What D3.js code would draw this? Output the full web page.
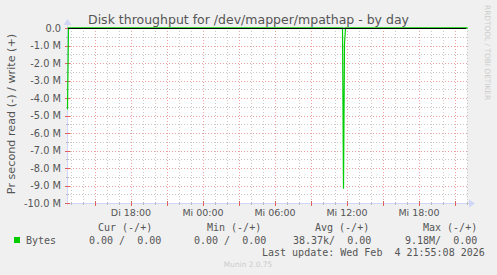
<!DOCTYPE html>
<html>
<head>
<meta charset="utf-8">
<script src="https://cdn.jsdelivr.net/npm/d3@7"></script>
<style>
html,body{margin:0;padding:0;background:#F0F0F0;}
svg{display:block;}
text{font-family:"DejaVu Sans",sans-serif;}
.mono{font-family:"DejaVu Sans Mono",monospace;white-space:pre;}
</style>
</head>
<body>
<script>
// ---- data (time in hours from Tue 00:00) ----
const readTimes  = [12.667, 12.75, 35.583, 35.667, 35.75, 35.833, 46.0];
const readValues = [4.65e6, 0, 0, 9.18e6, 0.9e6, 0, 0];
const writeTimes  = [12.667, 46.0];
const writeValues = [0, 0];
const xTickHours  = [18, 24, 30, 36, 42];
const xTickLabels = ["Di 18:00", "Mi 00:00", "Mi 06:00", "Mi 12:00", "Mi 18:00"];
const yTickValues = [0, -1e6, -2e6, -3e6, -4e6, -5e6, -6e6, -7e6, -8e6, -9e6, -10e6];
const yTickLabels = ["0.0", "-1.0 M", "-2.0 M", "-3.0 M", "-4.0 M", "-5.0 M", "-6.0 M", "-7.0 M", "-8.0 M", "-9.0 M", "-10.0 M"];
const legendHeaders = ["Cur (-/+)", "Min (-/+)", "Avg (-/+)", "Max (-/+)"];
const legendValues  = ["0.00 /  0.00", "0.00 /  0.00", "38.37k/  0.00", "9.18M/  0.00"];
const seriesName = "Bytes";
const lastUpdate = "Last update: Wed Feb  4 21:55:08 2026";

const W = 497, H = 275;
const L = 67, R = 467, T = 28, B = 203;
const green = "#00CC00";

const svg = d3.select("body").append("svg").attr("width", W).attr("height", H);
svg.append("rect").attr("width", W).attr("height", H).attr("fill", "#F0F0F0");

const x = d3.scaleLinear().domain([12.667, 46]).range([L, R]);
const y = d3.scaleLinear().domain([-10e6, 0]).range([B, T]);

// plot background
svg.append("rect").attr("x", L).attr("y", T).attr("width", R - L).attr("height", B - T).attr("fill", "#FFFFFF");

// grid
const g = svg.append("g");
const minorX = d3.range(13, 47).filter(h => h % 3 !== 0);
const majorX = d3.range(15, 47, 3);
const minorY = d3.range(-9.5e6, 0, 1e6);
const majorY = yTickValues;
g.selectAll(".mxv").data(minorX).join("line")
  .attr("x1", d => Math.round(x(d)) + 0.5).attr("x2", d => Math.round(x(d)) + 0.5)
  .attr("y1", T).attr("y2", B).attr("stroke", "#C8C8C8").attr("stroke-dasharray", "1,2");
g.selectAll(".myh").data(minorY).join("line")
  .attr("x1", L).attr("x2", R)
  .attr("y1", d => Math.round(y(d)) + 0.5).attr("y2", d => Math.round(y(d)) + 0.5)
  .attr("stroke", "#C8C8C8").attr("stroke-dasharray", "1,2");
g.selectAll(".Mxv").data(majorX).join("line")
  .attr("x1", d => Math.round(x(d)) + 0.5).attr("x2", d => Math.round(x(d)) + 0.5)
  .attr("y1", T).attr("y2", B).attr("stroke", "#EBA0A0").attr("stroke-dasharray", "1,2");
g.selectAll(".Myh").data(majorY).join("line")
  .attr("x1", L).attr("x2", R + 1)
  .attr("y1", d => Math.round(y(d)) + 0.5).attr("y2", d => Math.round(y(d)) + 0.5)
  .attr("stroke", "#EBA0A0").attr("stroke-dasharray", "1,2");

// axes
const axisCol = "#CFD6F8";
svg.append("line").attr("x1", L + 0.5).attr("x2", L + 0.5).attr("y1", B + 2).attr("y2", T - 5).attr("stroke", axisCol);
svg.append("line").attr("x1", L - 2).attr("x2", R + 4).attr("y1", B + 0.5).attr("y2", B + 0.5).attr("stroke", axisCol);
svg.append("path").attr("d", `M${L - 3.5},${T - 3} L${L + 0.5},${T - 9} L${L + 4.5},${T - 3} Z`).attr("fill", axisCol);
svg.append("path").attr("d", `M${R + 2},${B - 3.5} L${R + 8},${B + 0.5} L${R + 2},${B + 4.5} Z`).attr("fill", axisCol);
// axis ticks
svg.selectAll(".tkm").data(minorX).join("line")
  .attr("x1", d => Math.round(x(d)) + 0.5).attr("x2", d => Math.round(x(d)) + 0.5)
  .attr("y1", B - 1).attr("y2", B + 2).attr("stroke", "#BBBBBB");
svg.selectAll(".tkM").data(majorX).join("line")
  .attr("x1", d => Math.round(x(d)) + 0.5).attr("x2", d => Math.round(x(d)) + 0.5)
  .attr("y1", B - 2).attr("y2", B + 3).attr("stroke", "#E06060");
svg.selectAll(".tym").data(minorY).join("line")
  .attr("x1", L - 1).attr("x2", L + 2)
  .attr("y1", d => Math.round(y(d)) + 0.5).attr("y2", d => Math.round(y(d)) + 0.5).attr("stroke", "#BBBBBB");
svg.selectAll(".tyM").data(majorY).join("line")
  .attr("x1", L - 2).attr("x2", L + 3)
  .attr("y1", d => Math.round(y(d)) + 0.5).attr("y2", d => Math.round(y(d)) + 0.5).attr("stroke", "#E06060");

// write line (positive), read line (negative), then zero rule on top
const line = d3.line().x(d => x(d[0]) + 0.5).y(d => y(d[1]));
svg.append("path").datum(writeTimes.map((t, i) => [t, writeValues[i]]))
  .attr("d", line).attr("fill", "none").attr("stroke", green).attr("stroke-width", 1);
svg.append("path").datum(readTimes.map((t, i) => [t, -readValues[i]]))
  .attr("d", line).attr("fill", "none").attr("stroke", green).attr("stroke-width", 1.2);
svg.append("line").attr("x1", L + 1).attr("x2", R - 1).attr("y1", Math.round(y(0)) + 0.5).attr("y2", Math.round(y(0)) + 0.5)
  .attr("stroke", "#000").attr("stroke-width", 1);

// tick labels
const txtCol = "#555555";
svg.selectAll(".yl").data(yTickValues).join("text")
  .attr("x", 61).attr("y", d => y(d) + 3.5).attr("text-anchor", "end")
  .attr("font-size", "9.8px").attr("fill", txtCol).text((d, i) => yTickLabels[i]);
svg.selectAll(".xl").data(xTickHours).join("text")
  .attr("x", d => x(d)).attr("y", 216).attr("text-anchor", "middle")
  .attr("font-size", "9.5px").attr("fill", txtCol).text((d, i) => xTickLabels[i]);

// title
svg.append("text").attr("x", 248.5).attr("y", 24).attr("text-anchor", "middle")
  .attr("font-size", "12.5px").attr("fill", txtCol).text("Disk throughput for /dev/mapper/mpathap - by day");
// y label
svg.append("text").attr("transform", "translate(15,114) rotate(-90)").attr("text-anchor", "middle")
  .attr("font-size", "11.2px").attr("fill", txtCol).text("Pr second read (-) / write (+)");
// rrdtool credit
svg.append("text").attr("transform", "translate(485,5) rotate(90)").attr("text-anchor", "start")
  .attr("font-size", "7.4px").attr("fill", "#CCCCCC").text("RRDTOOL / TOBI OETIKER");

// legend
const hdrX = [98, 207, 315, 423];
const valX = [89, 194, 293, 405];
svg.selectAll(".lh").data(legendHeaders).join("text").attr("class", "mono")
  .attr("x", (d, i) => hdrX[i]).attr("y", 230.5).attr("font-size", "10px").attr("fill", txtCol).text(d => d);
svg.append("rect").attr("x", 14).attr("y", 237).attr("width", 6).attr("height", 6).attr("fill", green);
svg.append("text").attr("class", "mono").attr("x", 26).attr("y", 244).attr("font-size", "10px").attr("fill", txtCol).text(seriesName);
svg.selectAll(".lv").data(legendValues).join("text").attr("class", "mono")
  .attr("x", (d, i) => valX[i]).attr("y", 244).attr("font-size", "10px").attr("fill", txtCol).text(d => d);
svg.append("text").attr("class", "mono").attr("x", 262).attr("y", 256).attr("font-size", "10px").attr("fill", txtCol).text(lastUpdate);
svg.append("text").attr("x", 248).attr("y", 267).attr("text-anchor", "middle")
  .attr("font-size", "7.4px").attr("fill", "#CCCCCC").text("Munin 2.0.75");
</script>
</body>
</html>
